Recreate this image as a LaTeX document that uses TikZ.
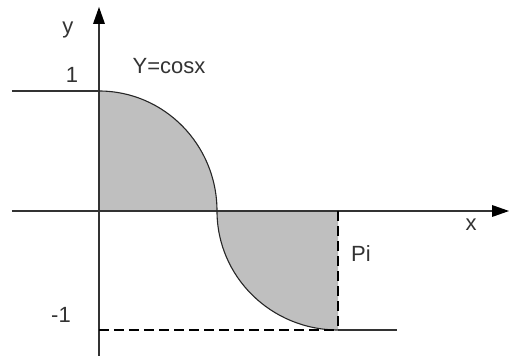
\documentclass[tikz,border=0pt]{standalone}
\usepackage{fontspec}
\setmainfont{Liberation Sans}

\begin{document}
\begin{tikzpicture}[
    x=1pt,
    y=1pt,
    font=\fontsize{22}{26}\selectfont,
    eje/.style={line width=1.2pt,black!80},
    punta/.style={fill=black},
    recta/.style={line width=1.2pt,black!80},
    curva/.style={line width=1.1pt,black!85},
    guia/.style={line width=1.6pt,black,dash pattern=on 10pt off 5pt},
    zona/.style={fill=black!25},
    rotulo/.style={inner sep=0pt,text=black!80}
]
    \useasboundingbox (-99,-145) rectangle (410,211);

    % Zona sombreada bajo la curva
    \path[zona] (0,0) -- (0,120)
        arc[start angle=90,end angle=0,x radius=118,y radius=120]
        arc[start angle=180,end angle=270,x radius=121,y radius=119]
        -- (239,0) -- cycle;

    % Ejes
    \coordinate (ytop) at (0,204);
    \coordinate (xtop) at (410,0);
    \draw[eje] (0,-145) -- (0,192);
    \draw[eje] (-87,0) -- (397,0);
    \path[punta] (ytop) -- ++(-6,-17) -- ++(12,0) -- cycle;
    \path[punta] (xtop) -- ++(-17,6) -- ++(0,-12) -- cycle;

    % Rectas y = 1 y y = -1
    \draw[recta] (-87,120) -- (0,120);
    \draw[recta] (239,-119) -- (298,-119);

    % Curva
    \draw[curva] (0,120)
        arc[start angle=90,end angle=0,x radius=118,y radius=120]
        arc[start angle=180,end angle=270,x radius=121,y radius=119];

    % Lineas de trazos
    \draw[guia] (0,-119) -- (239,-119);
    \draw[guia,line width=1.1pt] (239,0) -- (239,-119);

    % Rotulos
    \node[rotulo] (ly) at (-31,181) {y};
    \node[rotulo] (luno) at (-27,136) {1};
    \node[rotulo] (lfun) at (70,145) {Y=cosx};
    \node[rotulo] (lx) at (372,-14) {x};
    \node[rotulo] (lpi) at (262,-43) {Pi};
    \node[rotulo] (lmenos) at (-38,-104) {-1};
\end{tikzpicture}
\end{document}
